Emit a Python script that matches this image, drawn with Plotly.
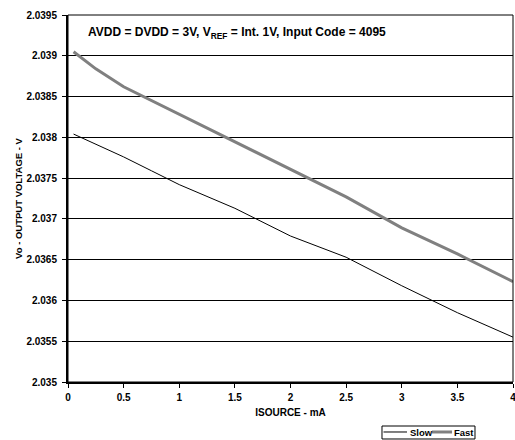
import plotly.graph_objects as go

x_ma = [0.05, 0.25, 0.5, 0.75, 1.0, 1.5, 2.0, 2.5, 3.0, 3.5, 4.0]
slow_v = [2.03804, 2.03792, 2.03776, 2.03759, 2.03742, 2.03713, 2.03679, 2.03653, 2.03618, 2.03585, 2.03555]
fast_v = [2.03905, 2.03884, 2.03862, 2.03845, 2.03828, 2.03795, 2.03760, 2.03727, 2.03689, 2.03657, 2.03623]

y_ticks = [2.035, 2.0355, 2.036, 2.0365, 2.037, 2.0375, 2.038, 2.0385, 2.039, 2.0395]
y_tick_text = ["2.035", "2.0355", "2.036", "2.0365", "2.037", "2.0375", "2.038", "2.0385", "2.039", "2.0395"]
x_ticks = [0, 0.5, 1, 1.5, 2, 2.5, 3, 3.5, 4]
x_tick_text = ["0", "0.5", "1", "1.5", "2", "2.5", "3", "3.5", "4"]

FONT = "Liberation Sans, Arial, sans-serif"
SLOW_COLOR = "black"
FAST_COLOR = "#808080"

fig = go.Figure()
fig.add_trace(go.Scatter(x=x_ma, y=slow_v, mode="lines", name="Slow",
                         line=dict(color=SLOW_COLOR, width=1)))
fig.add_trace(go.Scatter(x=x_ma, y=fast_v, mode="lines", name="Fast",
                         line=dict(color=FAST_COLOR, width=3)))

fig.update_layout(
    width=515, height=440,
    margin=dict(l=68, r=2, t=15, b=58, autoexpand=False),
    paper_bgcolor="white", plot_bgcolor="white",
    font=dict(family=FONT, size=9, color="black"),
    showlegend=False,
)
fig.update_xaxes(
    range=[0, 4], tickvals=x_ticks, ticktext=x_tick_text,
    showgrid=False, zeroline=False, automargin=False,
    showline=True, linecolor="black", linewidth=2, mirror=False,
    ticks="outside", ticklen=4, tickcolor="black", tickwidth=1,
    ticklabelstandoff=1, ticklabeloverflow="allow",
    tickfont=dict(family=FONT, size=10, color="black", weight="bold"),
    title=dict(text="<b>ISOURCE - mA</b>", font=dict(family=FONT, size=10, color="black"), standoff=7),
)
fig.update_yaxes(
    range=[2.035, 2.0395], tickvals=y_ticks, ticktext=y_tick_text,
    showgrid=True, gridcolor="black", gridwidth=1, zeroline=False, automargin=False,
    showline=True, linecolor="black", linewidth=2,
    ticks="outside", ticklen=4, tickcolor="black", tickwidth=1,
    ticklabelstandoff=3, ticklabeloverflow="allow",
    tickfont=dict(family=FONT, size=10, color="black", weight="bold"),
    title=dict(text="<b>Vo - OUTPUT VOLTAGE - V</b>", font=dict(family=FONT, size=9.5, color="black"), standoff=2),
)
# top and right frame
fig.add_shape(type="rect", xref="paper", yref="paper", x0=0, x1=1, y0=0, y1=1,
              line=dict(color="black", width=1), layer="above")
fig.add_annotation(
    xref="paper", yref="paper", x=0.04, y=0.952, xanchor="left", yanchor="middle",
    text="<b>AVDD = DVDD = 3V, V<sub>REF</sub> = Int. 1V, Input Code = 4095</b>",
    showarrow=False, font=dict(family=FONT, size=12, color="black"),
)

# legend box (drawn below the plot, bottom right)
fig.add_shape(type="rect", xref="paper", yref="paper", x0=0.7056, x1=0.9146, y0=-0.1553, y1=-0.1199,
              line=dict(color="black", width=1), fillcolor="white")
fig.add_shape(type="line", xref="paper", yref="paper", x0=0.709, x1=0.7618, y0=-0.1362, y1=-0.1362,
              line=dict(color=SLOW_COLOR, width=1))
fig.add_shape(type="line", xref="paper", yref="paper", x0=0.818, x1=0.863, y0=-0.1362, y1=-0.1362,
              line=dict(color=FAST_COLOR, width=3))
fig.add_annotation(xref="paper", yref="paper", x=0.7635, y=-0.1376, xanchor="left", yanchor="middle",
                   text="<b>Slow</b>", showarrow=False, font=dict(family=FONT, size=9.5, color="black"))
fig.add_annotation(xref="paper", yref="paper", x=0.8629, y=-0.1376, xanchor="left", yanchor="middle",
                   text="<b>Fast</b>", showarrow=False, font=dict(family=FONT, size=9.5, color="black"))

# remove the default page margin so the 515x440 figure fills the window exactly
fig.write_html(
    "out.html",
    config={"displayModeBar": False},
    post_script="document.body.style.margin='0';document.body.style.overflow='hidden';",
)
